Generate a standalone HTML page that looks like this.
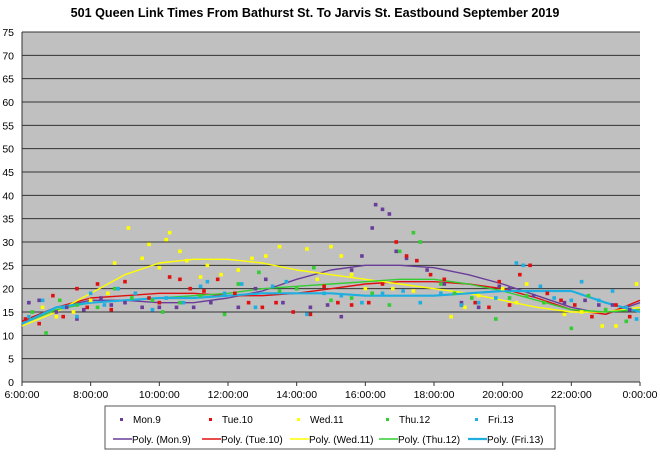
<!DOCTYPE html>
<html><head><meta charset="utf-8"><style>
body{margin:0;background:#fff;font-family:"Liberation Sans",sans-serif;}
svg text{font-family:"Liberation Sans",sans-serif;}
</style></head><body>
<svg id="c" width="660" height="453" xmlns="http://www.w3.org/2000/svg">
<text x="315" y="17" text-anchor="middle" font-size="12.6" font-weight="bold">501 Queen Link Times From Bathurst St. To Jarvis St. Eastbound September 2019</text>
<rect x="22" y="32" width="618" height="350" fill="#c0c0c0"/>
<g id="grid"></g><g id="axes"></g><g id="trends"></g><g id="pts"></g>
<g>
<rect x="105" y="406" width="450" height="43" fill="#fff" stroke="#555"/>
<g id="leg"></g>
</g>
</svg>
<script>
const NS='http://www.w3.org/2000/svg';
const yTicks=[0,5,10,15,20,25,30,35,40,45,50,55,60,65,70,75];
const xTickHours=[6,8,10,12,14,16,18,20,22,24];
const xTickLabels=['6:00:00','8:00:00','10:00:00','12:00:00','14:00:00','16:00:00','18:00:00','20:00:00','22:00:00','0:00:00'];
const seriesNames=['Mon.9','Tue.10','Wed.11','Thu.12','Fri.13'];
const trendHours=[6,7,8,9,10,11,12,13,14,15,16,17,18,19,20,21,22,23,24];
const trendMon=[13,16,17.5,17.5,17,17,18,19.5,22,24,25,25,24.5,23,21,18.5,16,14.5,17];
const trendTue=[13,16,18,18.5,19,19,18.5,18.5,19,20,21,21.5,21.5,21,20,18,15.5,14.5,17.5];
const trendWed=[12,15,19,23,25.5,26.3,26.3,25.5,24,23,22,21,20,19,17.5,16,15,15,16];
const trendThu=[12.5,15.5,17,17.5,18,18.5,19,20,20.5,21,21.5,22,22,21,19.5,17.5,15.5,15,15.5];
const trendFri=[12.5,16,17,17.5,18,18,18.5,19,19,19,18.5,18.5,18.5,19,19.5,19.5,19.5,17,15];
const ptsMon=[[6.2,17],[6.5,17.5],[7,15],[7.3,16],[7.6,13.5],[7.8,15.5],[8.3,18],[8.6,16.5],[9,17],[9.5,16],[10,16],[10.5,16],[11,16],[11.5,17],[12.3,16],[12.8,20],[13.1,22],[13.6,17],[14.4,16],[14.9,16.5],[15.3,14],[15.6,24],[15.9,27],[16.2,33],[16.3,38],[16.5,37],[16.7,36],[16.9,28],[17.2,26.5],[17.8,24],[18.3,21],[18.8,17],[19.3,16],[19.9,20.5],[20.2,20],[20.9,18.5],[21.3,19],[21.8,17],[22.4,17.5],[22.8,16.5],[23.2,16.5],[23.7,15.5]];
const ptsTue=[[6.1,13.5],[6.5,12.5],[6.9,18.5],[7.2,14],[7.6,20],[7.9,16],[8.2,21],[8.6,15.5],[9,21.5],[9.3,19],[9.7,18],[10,17],[10.3,22.5],[10.6,22],[10.9,20],[11.3,19.5],[11.7,22],[12.2,19],[12.6,17],[13,16],[13.4,17],[13.9,15],[14.4,14.5],[14.8,20.5],[15.2,17],[15.6,16.5],[16.1,17],[16.5,21],[16.9,30],[17.2,27],[17.5,26],[17.9,23],[18.3,22],[18.8,16.5],[19.2,17],[19.6,16],[19.9,21.5],[20.2,16.5],[20.5,23],[20.8,25],[21.3,19],[21.7,17.5],[22.1,16.5],[22.6,14],[23.3,16.5],[23.7,14]];
const ptsWed=[[6.2,14],[6.6,16],[7,14],[7.5,15],[8,17.5],[8.5,19],[8.7,25.5],[9.1,33],[9.5,26.5],[9.7,29.5],[10,24.5],[10.2,30.5],[10.3,32],[10.6,28],[10.8,26],[11.2,22.5],[11.4,25],[11.8,23],[12.3,24],[12.7,26.5],[13.1,27],[13.5,29],[14.3,28.5],[14.6,22],[15,29],[15.3,27],[15.6,23],[16,20],[16.8,20],[17.4,19.5],[18.5,14],[18.9,16],[19.3,18.5],[20,20],[20.4,17],[20.7,21],[21.2,17],[21.8,14.5],[22.3,15],[22.9,12],[23.3,12],[23.9,21]];
const ptsThu=[[6.3,15],[6.7,10.5],[7.1,17.5],[7.6,16.5],[8.2,16],[8.7,20],[9.2,18],[9.8,17.5],[10.1,15],[10.6,17],[11.2,18.5],[11.9,14.5],[12.3,21],[12.9,23.5],[13.5,19.5],[14,20],[14.5,24.5],[15,17.5],[15.6,18],[16.2,19],[16.7,16.5],[17,28],[17.4,32],[17.6,30],[18.2,21],[18.6,19],[19.1,18],[19.8,13.5],[20.2,18],[20.7,18.5],[21.2,17],[22,11.5],[22.5,18.5],[23,15.5],[23.6,13]];
const ptsFri=[[6.2,14],[6.6,17.5],[7.2,16],[7.6,14],[8,19],[8.4,16.5],[8.8,20],[9.3,19],[9.8,15.5],[10.2,18],[10.7,17],[11.2,20.5],[11.4,21.5],[11.9,19],[12.4,21],[12.8,16],[13.3,20.5],[13.7,21.5],[14.3,14.5],[14.8,19],[15.3,18.5],[15.9,17],[16.5,19],[17.1,19.5],[17.6,17],[18.2,19],[18.8,16.5],[19.3,17],[19.8,18],[20.4,25.5],[20.6,25],[21.1,20.5],[21.5,18],[22,17.5],[22.3,21.5],[22.8,17.5],[23.2,19.5],[23.6,16],[23.9,13.5]];
const colors=['#6a3d9a','#e01010','#ffff00','#33cc33','#1eaee0'];
const X=h=>22+(h-6)*618/18, Y=v=>382-v*350/75;
function mk(tag,attrs,parent){const e=document.createElementNS(NS,tag);for(const k in attrs)e.setAttribute(k,attrs[k]);parent.appendChild(e);return e;}
const grid=document.getElementById('grid'),axes=document.getElementById('axes');
yTicks.forEach(v=>{
 if(v>0){const l=mk('line',{x1:22,x2:640,y1:Y(v),y2:Y(v),stroke:'#333','stroke-width':1},grid);
 
 }
 const t=mk('text',{x:14,y:Y(v)+4,'text-anchor':'end','font-size':10.5},axes);t.textContent=v;
 
 
});
const ax=mk('path',{d:'M22,32V382H640',fill:'none',stroke:'#333'},axes);


xTickHours.forEach((h,i)=>{
 mk('line',{x1:X(h),x2:X(h),y1:382,y2:386,stroke:'#333'},axes);
 const t=mk('text',{x:X(h),y:398,'text-anchor':'middle','font-size':10.5},axes);t.textContent=xTickLabels[i];
 
 
});
const trends=[trendMon,trendTue,trendWed,trendThu,trendFri];
const tg=document.getElementById('trends');
trends.forEach((arr,i)=>{
 const p=mk('polyline',{points:arr.map((v,j)=>X(trendHours[j])+','+Y(v)).join(' '),fill:'none',stroke:colors[i],'stroke-width':i==4?2.2:1.4,'stroke-linejoin':'round'},tg);
 
 
});
const pts=[ptsMon,ptsTue,ptsWed,ptsThu,ptsFri];
const pg=document.getElementById('pts');
pts.forEach((arr,i)=>{arr.forEach(d=>{
 const r=mk('rect',{x:X(d[0])-1.8,y:Y(d[1])-1.8,width:3.6,height:3.6,fill:colors[i]},pg);
 
 
});});
const leg=document.getElementById('leg');
const cols=[113,202,290,379,468];
seriesNames.forEach((n,i)=>{
 const m=mk('rect',{x:cols[i]+7,y:418,width:3,height:3,fill:colors[i]},leg);
 
 
 const t=mk('text',{x:cols[i]+20,y:423,'font-size':10},leg);t.textContent=n;
 
 
 const l=mk('line',{x1:cols[i],x2:cols[i]+19,y1:439,y2:439,stroke:colors[i],'stroke-width':i==4?2.2:1.4},leg);
 
 
 const t2=mk('text',{x:cols[i]+19,y:443,'font-size':10},leg);t2.textContent='Poly. ('+n+')';
 
 
});
</script>
</body></html>
